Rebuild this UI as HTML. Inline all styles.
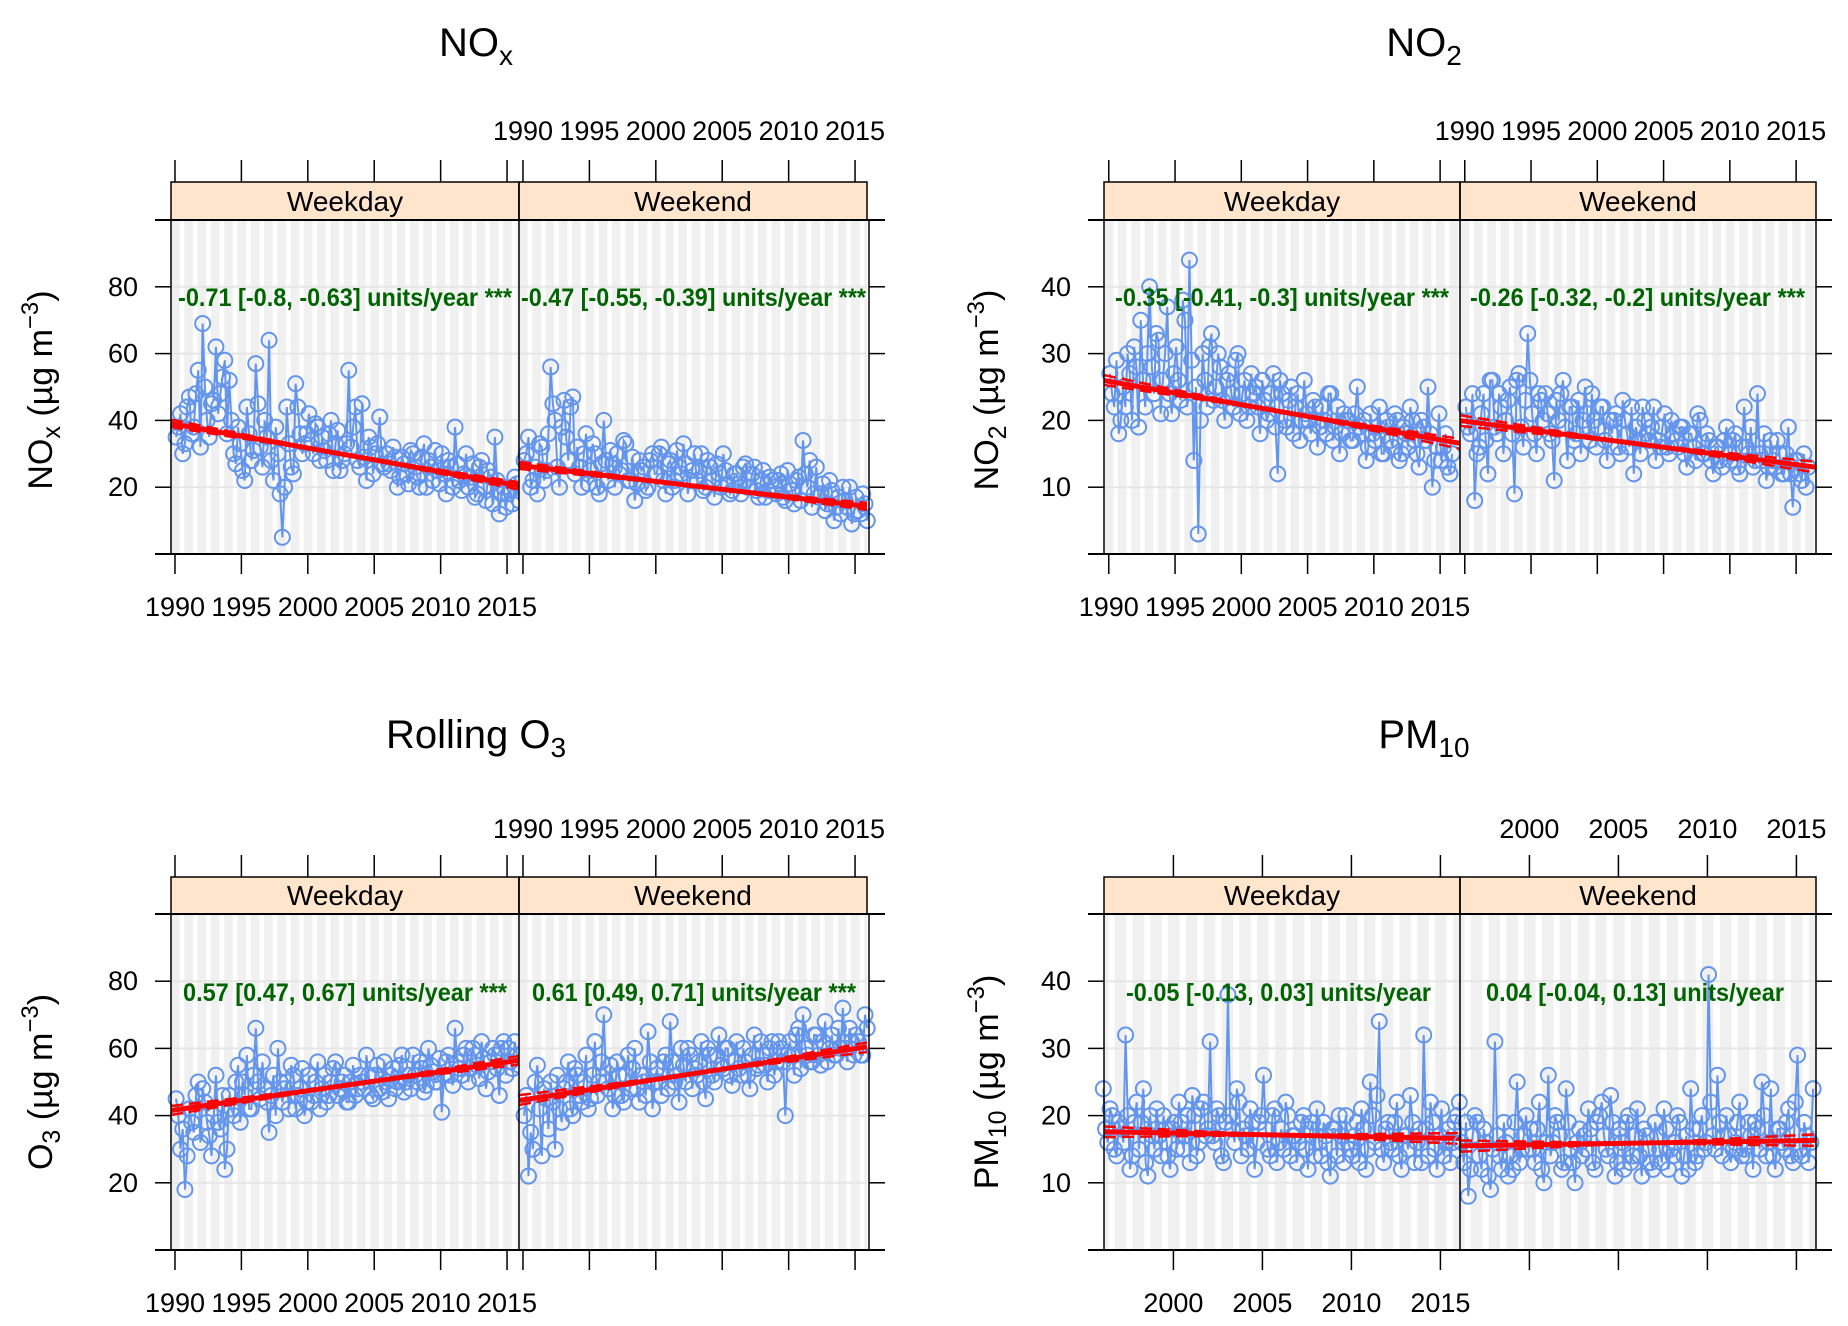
<!DOCTYPE html>
<html><head><meta charset="utf-8"><style>
html,body{margin:0;padding:0;background:#fff}
svg{display:block;font-family:"Liberation Sans",sans-serif}
</style></head><body>
<svg id="c" width="1848" height="1326" viewBox="0 0 1848 1326"></svg>
<script>
// ---- data: two interleaved sample sets per panel (A and B) ----
const noxWeekday=[35,42,33,47,38,55,69,40,45,62,48,58,52,30,38,25,44,28,57,32,40,64,22,30,5,44,26,51,36,33,42,30,38,35,28,40,33,25,30,55,38,28,45,22,32,30,41,26,27,32,20,29,24,31,26,20,33,28,22,25,30,18,26,38,22,24,20,27,18,28,16,23,35,12,20,18,15,21];
const noxWeekdayB=[38,30,44,36,48,32,50,35,46,42,53,36,40,27,33,22,36,31,45,26,35,28,38,18,20,33,24,44,30,36,34,39,28,31,36,25,37,28,33,32,44,26,29,35,24,33,27,30,25,29,23,27,21,30,23,29,20,26,31,21,24,28,20,27,19,30,23,17,26,20,25,15,22,18,14,19,23,16];
const noxWeekend=[28,35,22,18,32,25,56,40,20,46,28,47,32,20,36,25,30,18,40,22,27,30,25,33,22,16,28,26,20,30,24,32,18,28,22,26,33,18,25,22,30,20,26,17,24,30,21,19,24,18,27,20,26,17,25,19,22,18,24,16,21,15,23,34,20,14,26,18,13,22,10,17,20,14,9,17,12,15];
const noxWeekendB=[30,20,26,33,22,36,45,26,38,35,44,24,26,30,21,33,20,27,28,31,20,24,34,22,29,21,25,19,28,24,30,22,27,20,31,24,27,22,30,25,19,28,22,27,20,25,18,24,21,26,20,24,19,22,17,23,20,22,17,25,19,22,16,24,28,18,17,21,15,19,14,12,16,20,12,13,18,10];
const no2Weekday=[27,22,18,25,30,20,28,35,22,40,24,32,26,37,21,31,23,35,44,14,3,30,22,33,25,28,20,27,22,30,24,20,27,25,18,23,21,27,12,24,19,25,22,17,26,20,23,16,22,18,24,19,15,21,20,17,25,18,14,21,17,22,15,19,16,20,15,18,22,17,13,19,25,10,16,14,18,12];
const no2WeekdayB=[24,29,20,22,27,31,19,26,30,28,33,21,30,24,27,26,38,22,29,25,20,26,31,23,30,23,26,24,29,21,26,22,24,22,26,20,24,19,26,20,23,18,24,20,21,18,22,19,20,24,17,22,18,20,17,21,19,20,16,18,19,15,20,17,21,14,19,16,20,15,20,17,18,14,21,16,13,15];
const no2Weekend=[22,18,8,16,24,12,26,18,22,20,25,9,27,16,33,21,15,23,24,18,11,20,26,14,22,18,15,25,17,20,19,22,14,18,21,15,20,16,12,17,22,18,19,14,16,21,15,18,16,19,13,18,14,20,15,17,12,16,13,19,14,18,12,22,15,13,24,14,11,17,13,15,12,19,7,14,11,10];
const no2WeekendB=[19,24,15,21,17,26,19,24,15,23,18,26,19,23,26,18,24,20,21,17,23,24,19,22,17,23,20,21,24,16,22,17,20,20,16,23,18,22,19,15,20,17,22,17,19,16,20,17,19,15,18,16,21,15,18,14,16,14,17,15,17,13,16,16,19,14,15,18,13,14,17,12,15,12,14,12,15,13];
const o3Weekday=[45,30,18,42,35,50,48,38,28,52,36,24,46,40,55,50,58,42,66,45,48,35,52,60,44,50,55,42,48,40,52,46,56,48,44,50,56,48,52,44,55,48,50,58,46,52,48,56,45,54,50,58,50,48,52,56,47,60,53,50,41,56,52,66,54,58,50,60,55,62,48,56,58,46,62,60,54,58];
const o3WeekdayB=[40,36,28,38,46,32,44,34,40,38,46,30,42,50,38,46,42,52,50,56,44,46,40,50,48,42,52,46,54,44,44,50,42,52,46,54,46,50,44,50,46,52,48,52,45,55,47,50,52,48,55,47,52,58,50,54,49,55,50,57,52,58,49,56,52,60,54,58,51,57,53,60,54,60,52,56,62,55];
const o3Weekend=[40,22,30,55,28,45,50,30,42,48,56,40,52,44,58,45,62,50,70,48,42,56,46,52,48,60,44,50,65,42,54,46,58,68,50,44,55,60,48,52,62,45,58,50,64,54,60,49,62,52,56,48,64,55,58,50,62,56,60,40,62,52,66,70,58,56,64,55,68,60,58,66,72,56,62,64,58,70];
const o3WeekendB=[46,35,50,42,48,36,44,52,38,50,42,54,46,50,42,52,46,56,50,55,46,52,44,58,54,48,52,46,56,50,50,56,48,56,52,60,50,58,54,56,50,60,52,58,55,60,52,56,54,60,52,58,54,62,55,60,52,62,56,58,58,64,54,60,56,64,58,62,56,64,58,60,60,66,58,62,58,66];
const pmWeekday=[24,16,20,14,18,32,12,19,15,24,11,17,21,14,18,12,19,22,15,20,23,14,21,17,31,16,20,13,38,18,24,14,17,21,12,19,26,15,20,13,18,22,14,17,16,20,12,19,21,14,17,11,18,20,13,16,14,19,21,12,25,16,34,13,19,15,22,12,17,23,13,18,32,14,19,12,21,16,13,19];
const pmWeekdayB=[18,21,15,19,16,20,14,22,19,13,20,15,17,20,14,18,15,19,17,13,20,16,22,18,17,21,14,19,20,16,22,18,15,19,16,20,18,14,21,16,15,20,17,13,19,15,18,14,16,19,13,18,14,17,20,15,17,13,18,15,20,23,15,18,16,19,14,17,15,19,16,13,18,22,15,17,14,18,16,20];
const pmWeekend=[22,13,8,17,19,12,16,9,31,14,19,11,12,25,15,20,18,13,22,10,26,16,19,12,24,15,10,18,17,21,13,19,22,15,23,11,18,12,20,14,21,11,17,13,19,15,21,12,14,20,11,17,24,13,18,15,41,17,26,14,20,13,16,22,15,19,12,18,25,14,24,12,18,15,21,13,29,14,17,16];
const pmWeekendB=[16,19,12,20,14,18,11,15,17,12,16,14,19,13,17,15,15,18,12,16,14,20,17,13,19,13,16,14,15,18,12,20,17,14,19,13,16,19,13,17,14,18,15,12,17,13,18,15,16,19,14,12,18,14,20,16,22,15,19,17,17,15,19,14,14,17,19,15,20,16,14,18,16,19,14,22,15,19,13,24];
// trend slopes [estimate, lower, upper] and fitted value at mid year
const trendSlopes=[[-0.71,-0.8,-0.63],[-0.47,-0.55,-0.39],[-0.35,-0.41,-0.3],[-0.26,-0.32,-0.2],[0.57,0.47,0.67],[0.61,0.49,0.71],[-0.05,-0.13,0.03],[0.04,-0.04,0.13]];
const trendMidValues=[29.6,20.3,21.3,16.5,49.1,52.6,17.1,15.9];
const trendMidYears=[2003,2003,2003,2003,2003,2003,2006,2006];
const trendLabels=["-0.71 [-0.8, -0.63] units/year ***","-0.47 [-0.55, -0.39] units/year ***","-0.35 [-0.41, -0.3] units/year ***","-0.26 [-0.32, -0.2] units/year ***","0.57 [0.47, 0.67] units/year ***","0.61 [0.49, 0.71] units/year ***","-0.05 [-0.13, 0.03] units/year","0.04 [-0.04, 0.13] units/year"];
const yTicksA=[20,40,60,80];
const yTicksB=[10,20,30,40];
const xTicksA=[1990,1995,2000,2005,2010,2015];
const xTicksB=[2000,2005,2010,2015];

const NS="http://www.w3.org/2000/svg";
const svg=document.getElementById('c');
function el(tag,attrs,parent){const e=document.createElementNS(NS,tag);for(const k in attrs)e.setAttribute(k,attrs[k]);(parent||svg).appendChild(e);return e;}

const panels=[
 {key:'nox',L:171,D:519,R:869,ST:182,SB:220,B:554,ymax:100,x0:1989.7,x1:2015.9,yt:yTicksA,xt:xTicksA,data:[[noxWeekday,noxWeekdayB],[noxWeekend,noxWeekendB]],start:1990,per:3,ti:[0,1],
  title:['NO','x'],tx:476,ty:56,ylab:'NOx',ylx:52,yly:390,ytopLab:140,ybotLab:616,lblX:138,txtX:[[178,512],[521,866]],txtY:306},
 {key:'no2',L:1104,D:1460,R:1816,ST:182,SB:220,B:554,ymax:50,x0:1989.64,x1:2016.5,yt:yTicksB,xt:xTicksA,data:[[no2Weekday,no2WeekdayB],[no2Weekend,no2WeekendB]],start:1990,per:3,ti:[2,3],
  title:['NO','2'],tx:1424,ty:56,ylab:'NO2',ylx:998,yly:390,ytopLab:140,ybotLab:616,lblX:1071,txtX:[[1115,1449],[1470,1805]],txtY:306},
 {key:'o3',L:171,D:519,R:869,ST:877,SB:914,B:1250,ymax:100,x0:1989.7,x1:2015.9,yt:yTicksA,xt:xTicksA,data:[[o3Weekday,o3WeekdayB],[o3Weekend,o3WeekendB]],start:1990,per:3,ti:[4,5],
  title:['Rolling O','3'],tx:476,ty:748,ylab:'O3',ylx:52,yly:1082,ytopLab:838,ybotLab:1312,lblX:138,txtX:[[183,507],[532,856]],txtY:1001},
 {key:'pm10',L:1104,D:1460,R:1816,ST:877,SB:914,B:1250,ymax:50,x0:1996.1,x1:2016.1,yt:yTicksB,xt:xTicksB,data:[[pmWeekday,pmWeekdayB],[pmWeekend,pmWeekendB]],start:1996,per:4,ti:[6,7],
  title:['PM','10'],tx:1424,ty:748,ylab:'PM10',ylx:998,yly:1082,ytopLab:838,ybotLab:1312,lblX:1071,txtX:[[1126,1431],[1486,1784]],txtY:1001}
];

panels.forEach(p=>{
  const g=el('g',{});
  
  
  const t=el('text',{x:p.tx,y:p.ty,'font-size':40,'text-anchor':'middle',fill:'#000'},g);
  
  
  t.appendChild(document.createTextNode(p.title[0]));
  const sub=el('tspan',{'font-size':28,dy:9},t);sub.textContent=p.title[1];
  const yl=el('text',{x:0,y:0,'font-size':34,'text-anchor':'middle',transform:`translate(${p.ylx},${p.yly}) rotate(-90)`},g);
  
  
  const base=p.ylab.replace(/[0-9x]+$/,''), sb=p.ylab.slice(base.length);
  yl.appendChild(document.createTextNode(base));
  if(sb){const s=el('tspan',{'font-size':25,dy:8},yl);s.textContent=sb;
    const r=el('tspan',{dy:-8},yl);r.textContent=' (µg m';}
  else{const r=el('tspan',{},yl);r.textContent=' (µg m';}
  const sup=el('tspan',{'font-size':24,dy:-14},yl);sup.textContent='−3';
  const cl=el('tspan',{dy:14},yl);cl.textContent=')';

  const W=p.D-p.L;
  const ys=v=>p.B-(v/p.ymax)*(p.B-p.SB);
  [0,1].forEach(k=>{
    const pl=k?p.D:p.L;
    const xs=yr=>pl+(yr-p.x0)/(p.x1-p.x0)*W;
    const pg=el('g',{},g);
    
    
    for(let y=Math.floor(p.x0);y<=Math.ceil(p.x1);y++){
      const a=Math.max(xs(y-0.3),pl), b=Math.min(xs(y+0.35),pl+W);
      if(b>a){const r=el('rect',{x:a,y:p.SB,width:b-a,height:p.B-p.SB,fill:'#f0f0f0'},pg);
        
        }
    }
    p.yt.forEach(v=>{const l=el('line',{x1:pl,x2:pl+W,y1:ys(v),y2:ys(v),stroke:'#e6e6e6','stroke-width':2},pg);
      
      });
    const A=p.data[k][0], Bv=p.data[k][1];
    const pts=[];
    A.forEach((v,i)=>{
      pts.push([xs(p.start+(i+0.25)/p.per),ys(v)]);
      pts.push([xs(p.start+(i+0.75)/p.per),ys(Bv[i])]);
    });
    const pl2=el('polyline',{points:pts.map(q=>q.join(',')).join(' '),fill:'none',stroke:'#6495ED','stroke-width':2},pg);
    
    
    pts.forEach(q=>{const c=el('circle',{cx:q[0],cy:q[1],r:7.5,fill:'none',stroke:'#6495ED','stroke-width':2},pg);
      
      });
    const ti=p.ti[k], my=trendMidYears[ti], mv=trendMidValues[ti];
    const sl=trendSlopes[ti];
    [1,2].forEach(j=>{const l=el('line',{x1:pl,x2:pl+W,y1:ys(mv+sl[j]*(p.x0-my)),y2:ys(mv+sl[j]*(p.x1-my)),stroke:'#f00','stroke-width':2.5,'stroke-dasharray':'12,6'},pg);
      
      });
    const tl=el('line',{x1:pl,x2:pl+W,y1:ys(mv+sl[0]*(p.x0-my)),y2:ys(mv+sl[0]*(p.x1-my)),stroke:'#f00','stroke-width':5},pg);
    
    
    const tx=p.txtX[k];
    const tt=el('text',{x:tx[0],y:p.txtY,'font-size':25,'font-weight':'bold',fill:'#006400',textLength:tx[1]-tx[0],lengthAdjust:'spacingAndGlyphs'},pg);
    
    
    tt.textContent=trendLabels[ti];
    const sr=el('rect',{x:pl,y:p.ST,width:W,height:p.SB-p.ST,fill:'#FFE5CC',stroke:'#000','stroke-width':1.5},pg);
    
    
    const st=el('text',{x:pl+W/2,y:p.SB-9,'font-size':28,'text-anchor':'middle'},pg);
    
    
    st.textContent=k?'Weekend':'Weekday';
    p.xt.forEach(v=>{const x=xs(v);
      el('line',{x1:x,x2:x,y1:p.B,y2:p.B+20,stroke:'#000','stroke-width':1.5},pg);
      el('line',{x1:x,x2:x,y1:p.ST-22,y2:p.ST,stroke:'#000','stroke-width':1.5},pg);
      const lt=el('text',{x:x,y:k?p.ytopLab:p.ybotLab,'font-size':27,'text-anchor':'middle'},pg);
      
      
      lt.textContent=v;
    });
  });
  el('rect',{x:p.L,y:p.SB,width:p.R-p.L,height:p.B-p.SB,fill:'none',stroke:'#000','stroke-width':1.5},g);
  el('line',{x1:p.D,x2:p.D,y1:p.ST,y2:p.B,stroke:'#000','stroke-width':1.5},g);
  el('line',{x1:p.L-16,x2:p.R+16,y1:p.SB,y2:p.SB,stroke:'#000','stroke-width':2},g);
  el('line',{x1:p.L-16,x2:p.R+16,y1:p.B,y2:p.B,stroke:'#000','stroke-width':2},g);
  p.yt.forEach(v=>{const y=ys(v);
    el('line',{x1:p.L-16,x2:p.L,y1:y,y2:y,stroke:'#000','stroke-width':1.5},g);
    el('line',{x1:p.R,x2:p.R+16,y1:y,y2:y,stroke:'#000','stroke-width':1.5},g);
    const lt=el('text',{x:p.lblX,y:y+9,'font-size':27,'text-anchor':'end'},g);
    
    
    lt.textContent=v;});
});
</script>
</body></html>
